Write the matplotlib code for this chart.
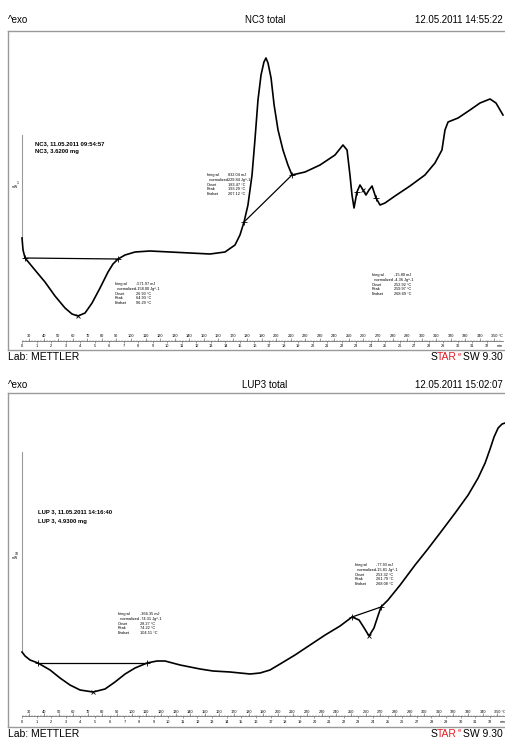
import matplotlib.pyplot as plt
from matplotlib.transforms import blended_transform_factory

plt.rcParams['font.family'] = ['Liberation Sans Narrow', 'Liberation Sans', 'DejaVu Sans']

W, H = 505, 740

# ---- NC3 total (upper panel): temperature in degC, heat flow in mW
nc3_temp = [25.0, 25.7, 27.1, 33.9, 40.8, 47.7, 54.6, 59.4, 63.5, 68.4, 73.2, 78.7,
            84.2, 87.6, 91.1, 95.9, 102.8, 113.1, 126.9, 140.6, 154.4, 164.7, 171.6,
            175.0, 177.8, 180.5, 183.3, 185.3, 187.4, 189.5, 191.5, 192.9, 194.3,
            196.4, 198.5, 201.2, 204.6, 208.0, 210.8, 219.8, 230.1, 240.4, 245.9,
            248.7, 250.7, 252.1, 253.5, 255.5, 257.6, 259.7, 261.7, 263.8, 265.9,
            268.6, 271.4, 274.8, 281.7, 292.0, 302.3, 309.2, 314.0, 316.1, 318.2,
            325.1, 333.3, 340.2, 347.1, 351.2, 356.0]
nc3_hf = [0.62, 0.50, 0.42, 0.30, 0.18, 0.04, -0.08, -0.14, -0.16, -0.13, -0.03, 0.12,
          0.28, 0.36, 0.41, 0.45, 0.48, 0.49, 0.48, 0.47, 0.46, 0.48, 0.55,
          0.65, 0.78, 0.95, 1.25, 1.60, 2.00, 2.25, 2.38, 2.42, 2.37,
          2.22, 1.95, 1.70, 1.50, 1.35, 1.25, 1.28, 1.35, 1.45, 1.55,
          1.50, 1.25, 1.05, 0.92, 1.08, 1.15, 1.10, 1.05, 1.10, 1.14,
          1.02, 0.95, 0.97, 1.04, 1.14, 1.25, 1.37, 1.50, 1.70, 1.78,
          1.82, 1.90, 1.97, 2.01, 1.97, 1.85]
nc3_base_temp = [[27.1, 91.1], [177.8, 210.8]]
nc3_base_hf = [[0.42, 0.41], [0.78, 1.25]]
nc3_peak_temp = [63.5, 259.7]
nc3_peak_hf = [-0.16, 1.10]
nc3_limit_temp = [255.5, 268.6]
nc3_limit_hf = [1.08, 1.02]

# ---- LUP3 total (lower panel)
lup3_temp = [25.0, 27.1, 30.5, 35.9, 44.2, 51.0, 57.8, 64.7, 73.6, 81.8, 88.6, 95.5,
             102.3, 110.5, 117.3, 122.8, 133.1, 146.8, 155.6, 167.3, 174.1, 181.0,
             187.8, 194.6, 201.5, 211.7, 222.0, 232.3, 242.5, 250.7, 255.5, 259.0,
             262.3, 265.7, 268.4, 270.5, 275.3, 283.6, 293.8, 302.0, 310.9, 321.2,
             330.1, 336.9, 341.7, 345.1, 347.8, 350.6, 353.3, 355.4]
lup3_hf = [2.40, 2.20, 2.00, 1.85, 1.50, 1.10, 0.75, 0.50, 0.40, 0.55, 0.90, 1.30,
           1.60, 1.85, 1.95, 1.95, 1.75, 1.55, 1.45, 1.40, 1.35, 1.30,
           1.35, 1.50, 1.80, 2.25, 2.75, 3.25, 3.70, 4.15, 4.00, 3.60,
           3.20, 3.60, 4.20, 4.65, 5.00, 5.75, 6.75, 7.50, 8.35, 9.35,
           10.25, 11.10, 11.85, 12.55, 13.15, 13.60, 13.80, 13.85]
lup3_base_temp = [[35.9, 110.5], [250.7, 270.5]]
lup3_base_hf = [[1.85, 1.85], [4.15, 4.65]]
lup3_peak_temp = [73.6, 262.3]
lup3_peak_hf = [0.40, 3.20]

# ruler labels
ruler_temps = list(range(30, 351, 10))
ruler_minutes = list(range(0, 33))

nc3_ann = [['-571.97 mJ', '-158.00 Jg^-1', '26.93 °C', '64.93 °C', '96.29 °C'],
           ['832.04 mJ', '229.84 Jg^-1', '183.47 °C', '193.29 °C', '207.12 °C'],
           ['-15.80 mJ', '-4.36 Jg^-1', '252.92 °C', '259.97 °C', '268.69 °C']]
lup3_ann = [['-366.35 mJ', '-74.31 Jg^-1', '28.27 °C', '74.22 °C', '104.51 °C'],
            ['-77.93 mJ', '-15.81 Jg^-1', '253.32 °C', '261.79 °C', '268.08 °C']]
ann_labels = ['Integral', '  normalized', 'Onset', 'Peak', 'Endset']

fig = plt.figure(figsize=(W / 100, H / 100), dpi=100)
renderer = fig.canvas.get_renderer()


def ftext(px, py, s, **kw):
    return fig.text(px / W, 1 - py / H, s, **kw)


def left_px(t):
    return t.get_window_extent(renderer).x0


def make_axes(top, bottom):
    ax = fig.add_axes([8 / W, 1 - bottom / H, (W - 8) / W, (bottom - top) / H])
    for side in ['left', 'top', 'bottom']:
        ax.spines[side].set_color('#9a9a9a')
        ax.spines[side].set_linewidth(1.0)
    ax.spines['right'].set_visible(False)
    ax.set_xticks([])
    ax.set_yticks([])
    return ax


def ruler(ax, top, bottom, py_lab, py_line, py_min):
    hgt = bottom - top
    fy = lambda py: (bottom - py) / hgt
    tr = blended_transform_factory(ax.transData, ax.transAxes)
    ax.plot([25, 356], [fy(py_line)] * 2, color='#555555', lw=0.5, transform=tr, clip_on=False)
    ax.vlines(list(range(26, 356, 2)), fy(py_line), fy(py_line - 1.5), color='#555555', lw=0.3, transform=tr)
    ax.vlines(ruler_temps, fy(py_line), fy(py_line - 3), color='#555555', lw=0.4, transform=tr)
    mins_t = [25 + 10 * m for m in ruler_minutes]
    ax.vlines(mins_t, fy(py_line), fy(py_line + 2), color='#555555', lw=0.4, transform=tr)
    for t in ruler_temps:
        lab = str(t) if t < 350 else '350 °C'
        ax.text(t if t < 350 else 352, fy(py_lab), lab, fontsize=2.8, ha='center', va='center', transform=tr)
    for m, t in zip(ruler_minutes, mins_t):
        ax.text(t, fy(py_min), str(m), fontsize=2.8, ha='center', va='center', transform=tr)
    ax.text(354, fy(py_min), 'min', fontsize=2.8, ha='center', va='center', transform=tr)


def annot(px, py, vals):
    for i, (lab, v) in enumerate(zip(ann_labels, vals)):
        ftext(px, py + i * 4.8, lab, fontsize=2.8, va='center')
        ftext(px + 21.5, py + i * 4.8, v, fontsize=2.8, va='center')


def header(py, title, stamp):
    ftext(8, py, '^exo', fontsize=7, va='center')
    ftext(265, py, title, fontsize=7, va='center', ha='center')
    ftext(503, py, stamp, fontsize=7, va='center', ha='right')


def footer(py):
    ftext(8, py, 'Lab: METTLER', fontsize=7.5, va='center')
    sw = ftext(503, py, 'SW 9.30', fontsize=7.5, va='center', ha='right')
    x = left_px(sw) - 2.5
    e = ftext(x, py - 3, 'e', fontsize=4.5, va='center', ha='right', color='#e31b23')
    x = left_px(e) - 0.3
    tar = ftext(x, py, 'TAR', fontsize=7.5, va='center', ha='right', color='#e31b23')
    x = left_px(tar)
    ftext(x, py, 'S', fontsize=7.5, va='center', ha='right')


# ---------------- upper panel
header(20, 'NC3 total', '12.05.2011 14:55:22')
ax1 = make_axes(31, 350)
ax1.set_xlim(15.36, 357.4)
ax1.set_ylim(-0.50, 2.69)
ax1.plot([25, 25], [0.62, 1.65], color='#9a9a9a', lw=0.8)
ax1.text(22.5, 1.15, '1\nmW', fontsize=2.5, ha='right', va='center', linespacing=1.0)
ax1.plot(nc3_temp, nc3_hf, color='black', lw=1.2)
for bt, bh in zip(nc3_base_temp, nc3_base_hf):
    ax1.plot(bt, bh, color='black', lw=0.9)
    ax1.plot(bt, bh, ls='none', marker='+', color='black', ms=4, mew=0.6)
ax1.plot(nc3_peak_temp, nc3_peak_hf, ls='none', marker='x', color='black', ms=3, mew=0.6)
ax1.plot(nc3_limit_temp, nc3_limit_hf, ls='none', marker='+', color='black', ms=4, mew=0.6)
ruler(ax1, 31, 350, 336, 341, 346)
ftext(35, 144, 'NC3, 11.05.2011 09:54:57', fontsize=4.2, fontweight='bold', va='center')
ftext(35, 152, 'NC3, 3.6200 mg', fontsize=4.2, fontweight='bold', va='center')
annot(115, 284, nc3_ann[0])
annot(207, 175, nc3_ann[1])
annot(372, 275, nc3_ann[2])
footer(357)

# ---------------- lower panel
header(385, 'LUP3 total', '12.05.2011 15:02:07')
ax2 = make_axes(393, 727)
ax2.set_xlim(15.43, 355.3)
ax2.set_ylim(-1.35, 15.35)
ax2.plot([25, 25], [2.40, 12.40], color='#9a9a9a', lw=0.8)
ax2.text(22.5, 7.2, '10\nmW', fontsize=2.5, ha='right', va='center', linespacing=1.0)
ax2.plot(lup3_temp, lup3_hf, color='black', lw=1.2)
for bt, bh in zip(lup3_base_temp, lup3_base_hf):
    ax2.plot(bt, bh, color='black', lw=0.9)
    ax2.plot(bt, bh, ls='none', marker='+', color='black', ms=4, mew=0.6)
ax2.plot(lup3_peak_temp, lup3_peak_hf, ls='none', marker='x', color='black', ms=3, mew=0.6)
ruler(ax2, 393, 727, 712, 716, 722)
ftext(38, 512, 'LUP 3, 11.05.2011 14:16:40', fontsize=4.2, fontweight='bold', va='center')
ftext(38, 521, 'LUP 3, 4.9300 mg', fontsize=4.2, fontweight='bold', va='center')
annot(118, 614, lup3_ann[0])
annot(355, 565, lup3_ann[1])
footer(734)

fig.savefig('out.png', dpi=100)
